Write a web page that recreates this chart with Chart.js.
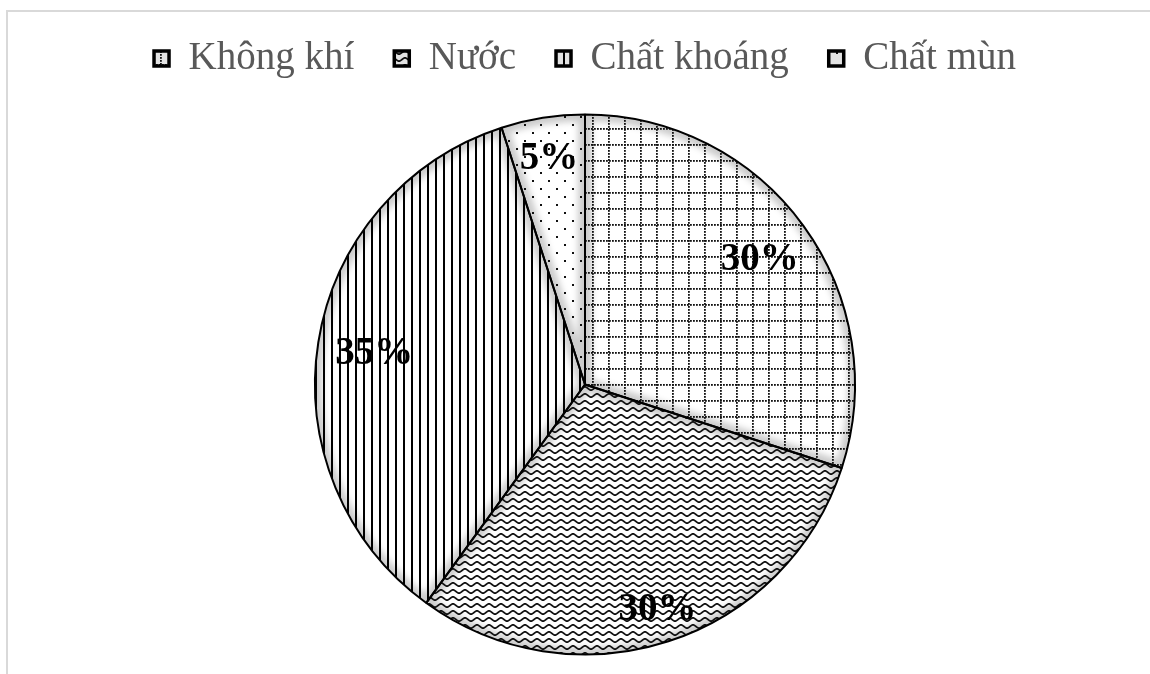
<!DOCTYPE html>
<html>
<head>
<meta charset="utf-8">
<script src="https://cdn.jsdelivr.net/npm/chart.js@4/dist/chart.umd.min.js"></script>
<style>
  html, body { margin: 0; padding: 0; background: #fff; }
  #wrap { position: relative; width: 1150px; height: 674px; overflow: hidden; }
  #frame { position: absolute; left: 6px; top: 10px; width: 1300px; height: 800px;
           border-top: 2px solid #d9d9d9; border-left: 2px solid #d9d9d9; }
  #c { position: absolute; left: 0; top: 0; }
</style>
</head>
<body>
<div id="wrap">
  <div id="frame"></div>
  <canvas id="c" width="1150" height="681"></canvas>
</div>
<script>
// Soil composition (percent)
const categories = ['Không khí', 'Nước', 'Chất khoáng', 'Chất mùn'];
const shares = [30, 30, 35, 5];
const valueLabels = shares.map(v => v + '%');

const INK = '#111';

// --- hatch tiles -------------------------------------------------------
function makeTile(w, h, bg, draw) {
  const c = document.createElement('canvas');
  c.width = w; c.height = h;
  const g = c.getContext('2d');
  if (bg) { g.fillStyle = bg; g.fillRect(0, 0, w, h); }
  draw(g);
  return c;
}
function gridTile(bg) {            // dotted grid
  return makeTile(48, 48, bg, g => {
    g.fillStyle = INK;
    for (let k = 0; k < 48; k += 16) {
      for (let t = 0; t < 48; t += 3) {
        g.fillRect(k, t, 1.8, 1.8);
        g.fillRect(t, k, 1.8, 1.8);
      }
    }
  });
}
function waveTile(bg) {            // wavy rows
  return makeTile(12, 7, bg, g => {
    g.strokeStyle = INK; g.lineWidth = 1.7;
    g.beginPath();
    for (let x = -1; x <= 13; x += 0.5) {
      const y = 3.5 + 1.6 * Math.sin(x / 12 * 2 * Math.PI);
      x === -1 ? g.moveTo(x, y) : g.lineTo(x, y);
    }
    g.stroke();
  });
}
function stripeTile(bg) {          // vertical lines
  return makeTile(8, 8, bg, g => {
    g.fillStyle = '#000';
    g.fillRect(3, 0, 2, 8);
  });
}
function dotTile(bg) {             // sparse dots
  return makeTile(16, 16, bg, g => {
    g.fillStyle = INK;
    g.fillRect(4, 4, 2, 2);
    g.fillRect(12, 12, 2, 2);
  });
}

const canvas = document.getElementById('c');
const ctx = canvas.getContext('2d');
const tileMakers = [gridTile, waveTile, stripeTile, dotTile];
const sliceFills = tileMakers.map(f => ctx.createPattern(f(null), 'repeat'));
const keyFills = tileMakers.map(f => ctx.createPattern(f('#e3e3e3'), 'repeat'));

// White base plus a soft grey rim inside each slice, under the hatching
const softEdge = {
  id: 'softEdge',
  beforeDatasetsDraw(chart) {
    const c = chart.ctx;
    chart.getDatasetMeta(0).data.forEach(arc => {
      const p = arc.getProps(['x', 'y', 'startAngle', 'endAngle', 'outerRadius'], true);
      c.save();
      c.beginPath();
      c.moveTo(p.x, p.y);
      c.arc(p.x, p.y, p.outerRadius, p.startAngle, p.endAngle);
      c.closePath();
      c.fillStyle = '#fff';
      c.fill();
      c.clip();
      c.filter = 'blur(3px)';
      c.lineWidth = 14;
      c.strokeStyle = 'rgba(0,0,0,0.2)';
      c.stroke();
      c.restore();
    });
  }
};

// Percentage labels placed inside each slice
const sliceLabels = {
  id: 'sliceLabels',
  afterDatasetsDraw(chart, args, opts) {
    const c = chart.ctx;
    chart.getDatasetMeta(0).data.forEach((arc, i) => {
      const p = arc.getProps(['x', 'y', 'startAngle', 'endAngle', 'outerRadius'], true);
      const mid = (p.startAngle + p.endAngle) / 2;
      const r = p.outerRadius * opts.radial[i];
      c.save();
      c.font = opts.font;
      c.fillStyle = '#000';
      c.textAlign = 'center';
      c.textBaseline = 'alphabetic';
      c.fillText(valueLabels[i], p.x + r * Math.cos(mid), p.y + r * Math.sin(mid) + opts.baselineShift);
      c.restore();
    });
  }
};

new Chart(ctx, {
  type: 'pie',
  data: {
    labels: categories,
    datasets: [{
      data: shares,
      backgroundColor: sliceFills,
      borderColor: '#000',
      borderWidth: 2
    }]
  },
  options: {
    responsive: false,
    animation: false,
    devicePixelRatio: 1,
    radius: 270,
    layout: { padding: { left: 20, right: 0, top: -1, bottom: 0 } },
    plugins: {
      legend: {
        position: 'top',
        labels: {
          font: { family: '"Liberation Serif", "Times New Roman", serif', size: 39 },
          color: '#595959',
          boxWidth: 15,
          boxHeight: 15,
          padding: 40,
          generateLabels(chart) {
            const items = Chart.overrides.doughnut.plugins.legend.labels.generateLabels(chart);
            return items.map((it, i) => Object.assign(it, {
              fillStyle: keyFills[i], strokeStyle: '#000', lineWidth: 3.5
            }));
          }
        }
      },
      tooltip: { enabled: false },
      sliceLabels: {
        radial: [0.80, 0.87, 0.79, 0.855],
        baselineShift: 12.5,
        font: 'bold 39px "Liberation Serif", "Times New Roman", serif'
      }
    }
  },
  plugins: [softEdge, sliceLabels]
});
</script>
</body>
</html>
